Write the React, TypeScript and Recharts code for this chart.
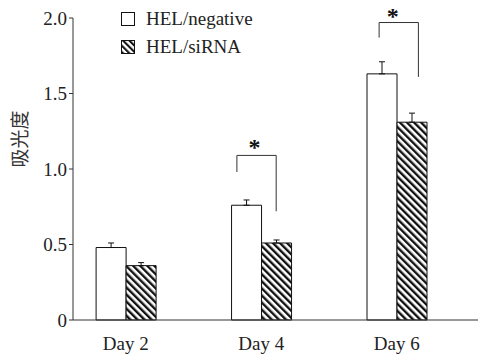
import {
  BarChart,
  Bar,
  XAxis,
  YAxis,
  ErrorBar,
  ReferenceLine,
  ReferenceDot
} from "recharts";

const categories = ["Day 2", "Day 4", "Day 6"];
const negative = [0.48, 0.76, 1.63];
const negativeErr = [0.03, 0.035, 0.08];
const siRNA = [0.36, 0.51, 1.31];
const siRNAErr = [0.02, 0.02, 0.06];
const yTicks = [0, 0.5, 1, 1.5, 2];

// significance brackets: day index, leg offsets, bracket top, leg ends, star height
const brackets = [
  { at: 1, left: -0.18, right: 0.11, top: 1.09, leftEnd: 0.98, rightEnd: 0.72, star: 1.15, starX: -0.05 },
  { at: 2, left: -0.13, right: 0.16, top: 1.97, leftEnd: 1.87, rightEnd: 1.61, star: 2.015, starX: -0.03 }
];

const data = categories.map((name, i) => ({
  pos: i,
  name,
  negative: negative[i],
  siRNA: siRNA[i],
  negErr: [0, negativeErr[i]],
  siErr: [0, siRNAErr[i]]
}));

const FONT = "'Liberation Serif', 'Times New Roman', serif";
const INK = "#222";

const fmtY = (v: number) => (v === 0 ? "0" : v.toFixed(1));

const YTick = (props: any) => {
  const { x, y, payload } = props;
  return (
    <text x={x} y={y} dy="0.36em" textAnchor="end" style={{ fontFamily: FONT, fontSize: 19 }} fill={INK}>
      {fmtY(payload.value)}
    </text>
  );
};

const LegendBox = () => (
  <div style={{ position: "absolute", left: 121, top: 5, fontFamily: FONT, fontSize: 19, color: INK, lineHeight: "28px" }}>
    {[
      { label: "HEL/negative", hatch: false },
      { label: "HEL/siRNA", hatch: true }
    ].map(item => (
      <div key={item.label} style={{ display: "flex", alignItems: "center" }}>
        <svg width={15} height={15} style={{ marginRight: 10 }}>
          <defs>
            <pattern id="hatchLegend" width={4.5} height={4.5} patternUnits="userSpaceOnUse" patternTransform="rotate(-45)">
              <rect width={4.5} height={4.5} fill="#fff" />
              <line x1={1} y1={0} x2={1} y2={4.5} stroke="#111" strokeWidth={2.2} />
            </pattern>
          </defs>
          <rect x={0.5} y={0.5} width={13} height={13} fill={item.hatch ? "url(#hatchLegend)" : "#fff"} stroke="#111" />
        </svg>
        <span>{item.label}</span>
      </div>
    ))}
  </div>
);

const App = () => {
  return (
    <div style={{ position: "absolute", left: 0, top: 0, width: 478, height: 358, background: "#fff" }}>
      <BarChart
        width={478}
        height={358}
        data={data}
        margin={{ top: 18, right: 0, left: 23, bottom: 8 }}
        barGap={0}
        style={{ fontFamily: FONT }}
      >
        <defs>
          <pattern id="hatch" width={5} height={5} patternUnits="userSpaceOnUse" patternTransform="rotate(-45)">
            <rect width={5} height={5} fill="#fff" />
            <line x1={1.2} y1={0} x2={1.2} y2={5} stroke="#111" strokeWidth={2.4} />
          </pattern>
        </defs>
        <XAxis
          dataKey="pos"
          type="number"
          domain={[-0.39, 2.6]}
          allowDataOverflow
          ticks={[0, 1, 2]}
          tickFormatter={(v: number) => categories[v]}
          tickLine={false}
          tickSize={6}
          tickMargin={11}
          height={30}
          axisLine={{ stroke: "#333" }}
          tick={{ fill: INK, fontFamily: FONT, fontSize: 19 }}
        />
        <YAxis
          domain={[0, 2]}
          ticks={yTicks}
          width={50}
          tickSize={4}
          tickMargin={2}
          axisLine={{ stroke: "#333" }}
          tickLine={{ stroke: "#333" }}
          tick={<YTick />}
          label={{
            content: () => (
              <text
                x={18}
                y={139}
                transform="rotate(-90 18 139)"
                textAnchor="middle"
                dominantBaseline="central"
                fontFamily="'Noto Sans CJK SC', sans-serif"
                fontSize={19}
                fill="#333"
              >
                吸光度
              </text>
            )
          }}
        />
        <Bar dataKey="negative" barSize={30} fill="#fff" stroke="#111" strokeWidth={1} isAnimationActive={false}>
          <ErrorBar dataKey="negErr" direction="y" width={3} stroke="#111" strokeWidth={1} isAnimationActive={false} />
        </Bar>
        <Bar dataKey="siRNA" barSize={30} fill="url(#hatch)" stroke="#111" strokeWidth={1} isAnimationActive={false}>
          <ErrorBar dataKey="siErr" direction="y" width={3} stroke="#111" strokeWidth={1} isAnimationActive={false} />
        </Bar>
        {brackets.map(b => (
          <ReferenceLine
            key={"l" + b.at}
            ifOverflow="visible"
            stroke="#333"
            segment={[
              { x: b.at + b.left, y: b.leftEnd },
              { x: b.at + b.left, y: b.top }
            ]}
          />
        ))}
        {brackets.map(b => (
          <ReferenceLine
            key={"t" + b.at}
            ifOverflow="visible"
            stroke="#333"
            segment={[
              { x: b.at + b.left, y: b.top },
              { x: b.at + b.right, y: b.top }
            ]}
          />
        ))}
        {brackets.map(b => (
          <ReferenceLine
            key={"r" + b.at}
            ifOverflow="visible"
            stroke="#333"
            segment={[
              { x: b.at + b.right, y: b.top },
              { x: b.at + b.right, y: b.rightEnd }
            ]}
          />
        ))}
        {brackets.map(b => (
          <ReferenceDot
            key={"s" + b.at}
            x={b.at + b.starX}
            y={b.star}
            r={0}
            ifOverflow="visible"
            fill="none"
            stroke="none"
            label={{ value: "*", position: "center", fontSize: 24, fontWeight: "bold", fill: "#111", fontFamily: FONT }}
          />
        ))}
      </BarChart>
      <LegendBox />
    </div>
  );
};

export default App;
